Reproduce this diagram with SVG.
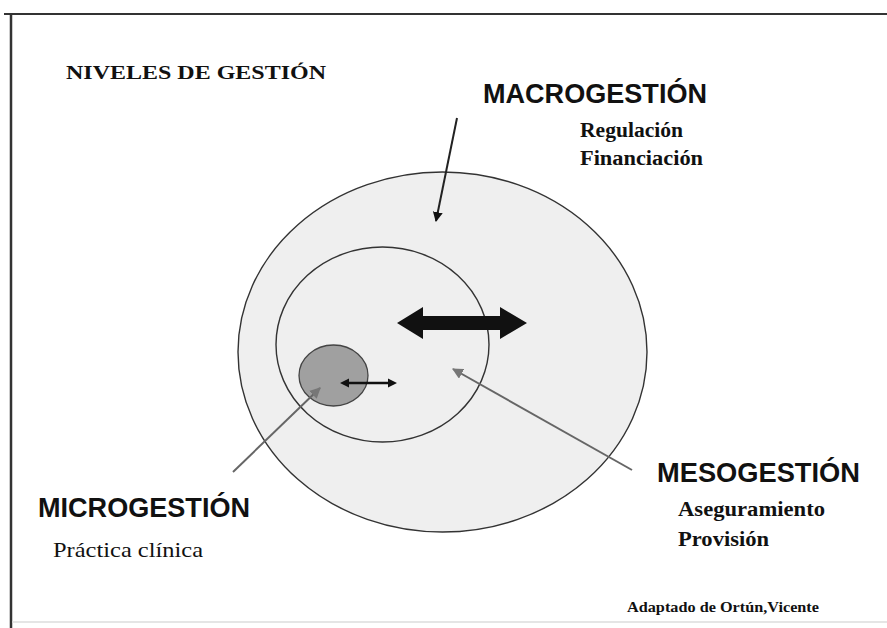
<svg xmlns="http://www.w3.org/2000/svg" width="887" height="628" viewBox="0 0 887 628">
<style>
.serif{font-family:"Liberation Serif","Times New Roman",serif;fill:#111}
.b{font-weight:bold}
.sans{font-family:"Liberation Sans",Arial,sans-serif;font-weight:bold;fill:#111}
.ring{fill:#efefef;stroke:#333;stroke-width:1.4}
</style>
<defs>
<marker id="hBlack" viewBox="0 0 10 10" refX="9" refY="5" markerWidth="10" markerHeight="11" markerUnits="userSpaceOnUse" orient="auto"><path d="M0,0 L10,5 L0,10 z" fill="#111"/></marker>
<marker id="hGray" viewBox="0 0 10 10" refX="9" refY="5" markerWidth="11" markerHeight="11" markerUnits="userSpaceOnUse" orient="auto"><path d="M0,0 L10,5 L0,10 z" fill="#777"/></marker>
</defs>
<rect x="0" y="0" width="887" height="628" fill="#fff"/>
<g id="frame">
<line x1="4" y1="14" x2="887" y2="14" stroke="#333" stroke-width="2"/>
<line x1="11" y1="14" x2="11" y2="628" stroke="#333" stroke-width="2.5"/>
<line x1="12" y1="622" x2="887" y2="622" stroke="#ddd" stroke-width="1.5"/>
</g>
<g id="title"><text class="serif b" x="66" y="79" font-size="19" textLength="260" lengthAdjust="spacingAndGlyphs">NIVELES DE GESTIÓN</text></g>
<g id="macro-circle"><ellipse class="ring" cx="442.5" cy="352" rx="204.5" ry="180"/></g>
<g id="meso-circle"><ellipse class="ring" cx="382.5" cy="344.5" rx="106.5" ry="97.5" fill="#f1f1f1"/></g>
<g id="micro-circle"><ellipse cx="333.5" cy="375.5" rx="34.5" ry="30.5" fill="#a0a0a0" stroke="#444" stroke-width="1.3"/></g>
<g id="connectors">
<polygon points="397,323 423,307 423,316 500,316 500,307 527,323 500,339 500,330 423,330 423,339" fill="#111"/>
<polygon points="340,383 349,378.5 349,381.7 388,381.7 388,378.5 397,383 388,387.5 388,384.3 349,384.3 349,387.5" fill="#111"/>
<line x1="457" y1="118" x2="436" y2="221" stroke="#222" stroke-width="2" marker-end="url(#hBlack)"/>
<line x1="632" y1="470" x2="453" y2="369" stroke="#666" stroke-width="2" marker-end="url(#hGray)"/>
<line x1="233" y1="472" x2="320" y2="388" stroke="#666" stroke-width="2" marker-end="url(#hGray)"/>
</g>
<g id="macro-label">
<text class="sans" x="483" y="103" font-size="27" textLength="224" lengthAdjust="spacingAndGlyphs">MACROGESTIÓN</text>
<text class="serif b" x="580" y="137" font-size="20" textLength="103" lengthAdjust="spacingAndGlyphs">Regulación</text>
<text class="serif b" x="580" y="165" font-size="20" textLength="123" lengthAdjust="spacingAndGlyphs">Financiación</text>
</g>
<g id="meso-label">
<text class="sans" x="657" y="482" font-size="27" textLength="203" lengthAdjust="spacingAndGlyphs">MESOGESTIÓN</text>
<text class="serif b" x="678" y="516" font-size="20" textLength="147" lengthAdjust="spacingAndGlyphs">Aseguramiento</text>
<text class="serif b" x="678" y="546" font-size="20" textLength="91" lengthAdjust="spacingAndGlyphs">Provisión</text>
</g>
<g id="micro-label">
<text class="sans" x="38" y="517" font-size="27" textLength="212" lengthAdjust="spacingAndGlyphs">MICROGESTIÓN</text>
<text class="serif" x="53" y="557" font-size="21" textLength="150" lengthAdjust="spacingAndGlyphs">Práctica clínica</text>
</g>
<g id="credit"><text class="serif b" x="627" y="612" font-size="15" textLength="192" lengthAdjust="spacingAndGlyphs">Adaptado de Ortún,Vicente</text></g>
</svg>
